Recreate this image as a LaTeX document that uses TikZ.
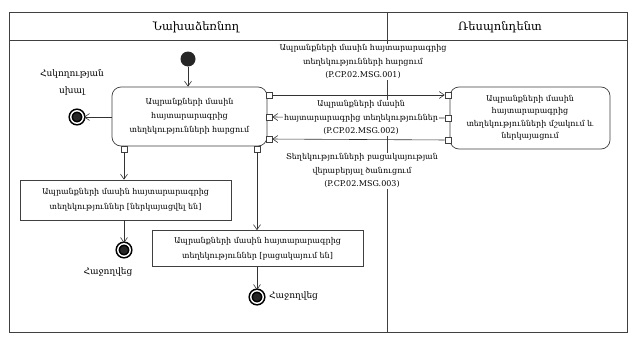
\documentclass[tikz,border=0pt]{standalone}
\usepackage{fontspec}
\setmainfont{DejaVu Serif}
\usetikzlibrary{arrows.meta,calc}
\tikzset{
  x=1pt,y=-1pt,
  frameline/.style={draw=black!75,line width=0.9pt},
  conn/.style={draw=black!80,line width=0.6pt,-{Straight Barb[length=5pt,width=7pt]}},
  actbox/.style={draw=black!75,line width=0.7pt,rounded corners=9pt,align=center,inner sep=1pt,font=\fontsize{8}{14}\selectfont},
  objbox/.style={draw=black!75,line width=0.7pt,align=center,inner sep=1pt,font=\fontsize{8}{15}\selectfont},
  pinbox/.style={draw=black!75,fill=white,line width=0.6pt,minimum size=6pt,inner sep=0pt},
  initnode/.style={circle,fill=black!85,minimum size=15pt,inner sep=0pt},
  finalnode/.style={circle,draw=black,fill=black!85,line width=1.6pt,double=white,double distance=1.4pt,minimum size=12.5pt,inner sep=0pt},
  msglabel/.style={fill=white,align=center,inner sep=1pt,font=\fontsize{8}{13.5}\selectfont},
  plainlabel/.style={align=center,inner sep=1pt,font=\fontsize{9}{17}\selectfont},
  headlabel/.style={font=\fontsize{11.5}{13}\selectfont},
}
\begin{document}
\begin{tikzpicture}
\useasboundingbox (0,0) rectangle (634,340);
\fill[white] (0,0) rectangle (634,340);
% frame
\draw[frameline] (9,12) rectangle (627,332);
\draw[frameline] (9,40) -- (627,40);
\draw[frameline] (387,12) -- (387,332);
\node[headlabel] (hA) at (196,27) {Նախաձեռնող};
\node[headlabel] (hB) at (500,27) {Ռեսպոնդենտ};
% nodes
\node[initnode] (init) at (188,59) {};
\node[actbox,minimum width=155pt,minimum height=59pt] (main) at (189.5,116.5)
  {Ապրանքների մասին\\հայտարարագրից\\տեղեկությունների հարցում};
\node[actbox,minimum width=160pt,minimum height=62pt,font=\fontsize{8}{12.5}\selectfont] (resp) at (530,118)
  {Ապրանքների մասին\\հայտարարագրից\\տեղեկությունների մշակում և\\ներկայացում};
\node[finalnode] (fErr) at (77,117) {};
\node[plainlabel] (lErr) at (72,82) {Հսկողության\\սխալ};
\node[objbox,minimum width=211pt,minimum height=40pt] (pres) at (125.5,200)
  {Ապրանքների մասին հայտարարագրից\\տեղեկություններ [ներկայացվել են]};
\node[objbox,minimum width=211pt,minimum height=36pt] (abs) at (257.5,248.5)
  {Ապրանքների մասին հայտարարագրից\\տեղեկություններ [բացակայում են]};
\node[finalnode] (fA) at (124,250) {};
\node[plainlabel] (lA) at (108,272) {Հաջողվեց};
\node[finalnode] (fB) at (257,297) {};
\node[plainlabel,anchor=west] (lB) at (268,296) {Հաջողվեց};
% pins
\node[pinbox] (p1) at (269,95) {};
\node[pinbox] (p2) at (269,117) {};
\node[pinbox] (p3) at (269,139) {};
\node[pinbox] (q1) at (448,95) {};
\node[pinbox] (q2) at (448,118) {};
\node[pinbox] (q3) at (448,140) {};
\node[pinbox] (b1) at (124,149) {};
\node[pinbox] (b2) at (257,149) {};
% connectors
\draw[conn] (init) -- (init |- main.north);
\draw[conn] (fErr -| main.west) -- (fErr);
\draw[conn] (p1) -- (q1);
\draw[conn] (q2) -- (p2);
\draw[conn] (q3) -- (p3);
\draw[conn] (b1) -- (b1 |- pres.north);
\draw[conn] (fA |- pres.south) -- (fA);
\draw[conn] (b2) -- (b2 |- abs.north);
\draw[conn] (fB |- abs.south) -- (fB);
% message labels
\node[msglabel] (m1) at (363,62) {Ապրանքների մասին հայտարարագրից\\տեղեկությունների հարցում\\(P.CP.02.MSG.001)};
\node[msglabel] (m2) at (361,118) {Ապրանքների մասին\\հայտարարագրից տեղեկություններ\\(P.CP.02.MSG.002)};
\node[msglabel] (m3) at (362,171) {Տեղեկությունների բացակայության\\վերաբերյալ ծանուցում\\(P.CP.02.MSG.003)};
\end{tikzpicture}
\end{document}
